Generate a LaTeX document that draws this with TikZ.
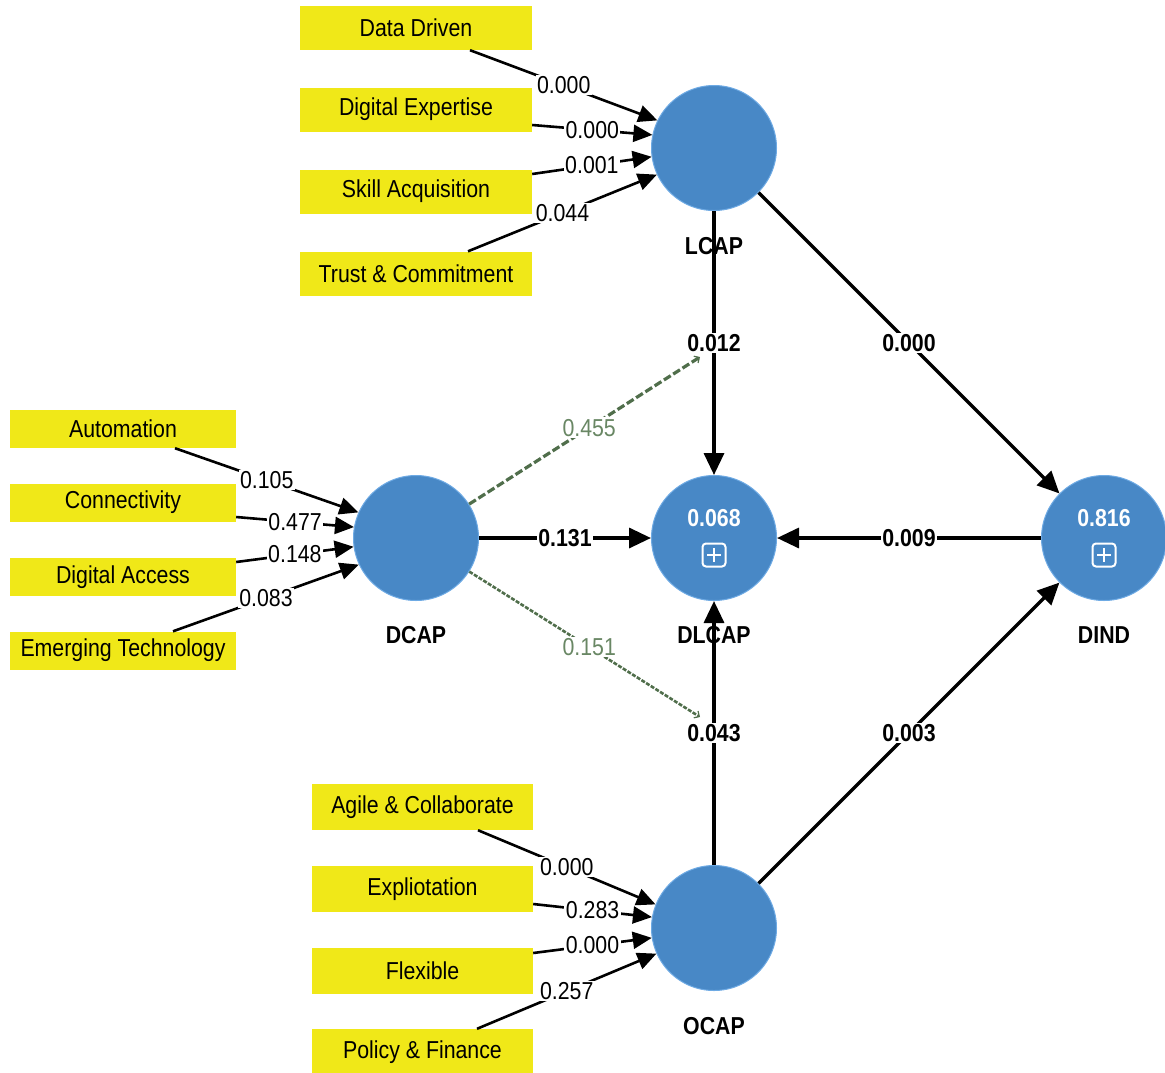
\documentclass[tikz,border=0pt]{standalone}
\usepackage{fontspec}
\setmainfont{Liberation Sans}[FakeStretch=0.87]
\usetikzlibrary{arrows.meta}
\definecolor{cblue}{RGB}{72,136,198}
\definecolor{cborder}{RGB}{110,170,228}
\definecolor{cyel}{RGB}{240,232,24}
\definecolor{cgreen}{RGB}{80,110,75}
\definecolor{cgtext}{RGB}{105,135,100}
\begin{document}
\begin{tikzpicture}[x=1pt,y=-1pt,
  lv/.style={circle,fill=cblue,draw=cborder,line width=1pt,minimum size=125pt,inner sep=0pt},
  ind/.style={fill=cyel,minimum width=232pt,inner sep=0pt,font=\fontsize{24.5}{27}\selectfont},
  nm/.style={font=\bfseries\fontsize{24.5}{27}\selectfont},
  lab/.style={fill=white,inner sep=1.5pt,font=\fontsize{24.5}{27}\selectfont},
  blab/.style={fill=white,inner sep=1.5pt,font=\bfseries\fontsize{24.5}{27}\selectfont},
  glab/.style={fill=white,inner sep=1.5pt,text=cgtext,font=\fontsize{24.5}{27}\selectfont},
  wlab/.style={text=white,font=\bfseries\fontsize{24.5}{27}\selectfont},
  inarr/.style={line width=2.6pt,-{Triangle[length=19pt,width=17pt]}},
  sarr/.style={line width=3.4pt,-{Triangle[length=22pt,width=20pt]}},
  mod/.style={cgreen,line width=3.2pt,dash pattern=on 8pt off 3pt,-{Straight Barb[length=4pt,width=8pt,line width=1.2pt]}},
  plusbox/.style={draw=white,line width=2pt,rounded corners=3.5pt,minimum size=23pt,inner sep=0pt}
]
\useasboundingbox (0,0) rectangle (1165,1072);

% latent variables
\node[lv] (LCAP) at (714,148) {};
\node[lv] (DCAP) at (416,538) {};
\node[lv] (DLCAP) at (714,538) {};
\node[lv] (DIND) at (1104,538) {};
\node[lv] (OCAP) at (714,928) {};

\node[wlab] (r2a) at (714,518) {0.068};
\node[plusbox] (pa) at (714,555) {};
\draw[white,line width=2pt] ([xshift=-7pt]pa.center) -- ([xshift=7pt]pa.center);
\draw[white,line width=2pt] ([yshift=-7pt]pa.center) -- ([yshift=7pt]pa.center);
\node[wlab] (r2b) at (1104,518) {0.816};
\node[plusbox] (pb) at (1104,555) {};
\draw[white,line width=2pt] ([xshift=-7pt]pb.center) -- ([xshift=7pt]pb.center);
\draw[white,line width=2pt] ([yshift=-7pt]pb.center) -- ([yshift=7pt]pb.center);

% names
\node[nm] (nLCAP) at (714,246) {LCAP};
\node[nm] (nDCAP) at (416,635) {DCAP};
\node[nm] (nDLCAP) at (714,635) {DLCAP};
\node[nm] (nDIND) at (1104,635) {DIND};
\node[nm] (nOCAP) at (714,1026) {OCAP};

% indicators LCAP
\node[ind,minimum height=44pt] (dd) at (416,28) {Data Driven};
\node[ind,minimum height=44pt] (de) at (416,109.5) {Digital Expertise};
\node[ind,minimum height=44pt] (sa) at (416,191.5) {Skill Acquisition};
\node[ind,minimum height=44pt] (tc) at (416,273.5) {Trust \& Commitment};

% indicators DCAP
\node[ind,minimum width=226pt,minimum height=38pt] (au) at (123,429) {Automation};
\node[ind,minimum width=226pt,minimum height=38pt] (co) at (123,502.5) {Connectivity};
\node[ind,minimum width=226pt,minimum height=38pt] (da) at (123,577) {Digital Access};
\node[ind,minimum width=226pt,minimum height=38pt] (et) at (123,650.5) {Emerging Technology};

% indicators OCAP
\node[ind,minimum width=221pt,minimum height=46pt] (ag) at (422.5,807) {Agile \& Collaborate};
\node[ind,minimum width=221pt,minimum height=46pt] (ex) at (422.5,889) {Expliotation};
\node[ind,minimum width=221pt,minimum height=46pt] (fl) at (422.5,970.5) {Flexible};
\node[ind,minimum width=221pt,minimum height=46pt] (pf) at (422.5,1052) {Policy \& Finance};

% outer model arrows LCAP
\draw[inarr] ([xshift=54pt]dd.south) -- node[lab] {0.000} (LCAP.154);
\draw[inarr] ([yshift=-15.5pt]de.east) -- node[lab] {0.000} (LCAP.168);
\draw[inarr] ([yshift=17.5pt]sa.east) -- node[lab] {0.001} (LCAP.188);
\draw[inarr] ([xshift=52pt]tc.north) -- node[lab] {0.044} (LCAP.205);

% outer model arrows DCAP
\draw[inarr] ([xshift=52pt]au.south) -- node[lab] {0.105} (DCAP.156);
\draw[inarr] ([yshift=-14.5pt]co.east) -- node[lab] {0.477} (DCAP.170);
\draw[inarr] ([yshift=15pt]da.east) -- node[lab] {0.148} (DCAP.188);
\draw[inarr] ([xshift=50pt]et.north) -- node[lab] {0.083} (DCAP.205);

% outer model arrows OCAP
\draw[inarr] ([xshift=55.5pt]ag.south) -- node[lab] {0.000} (OCAP.158);
\draw[inarr] ([yshift=-15pt]ex.east) -- node[lab] {0.283} (OCAP.170);
\draw[inarr] ([yshift=17.5pt]fl.east) -- node[lab] {0.000} (OCAP.189);
\draw[inarr] ([xshift=54.5pt]pf.north) -- node[lab] {0.257} (OCAP.204);

% structural paths
\draw[sarr] (LCAP) -- node[blab] (p1) {0.012} (DLCAP);
\draw[sarr] (LCAP) -- node[blab] {0.000} (DIND);
\draw[sarr] (DCAP) -- node[blab] {0.131} (DLCAP);
\draw[sarr] (DIND) -- node[blab] {0.009} (DLCAP);
\draw[sarr] (OCAP) -- node[blab] (p2) {0.043} (DLCAP);
\draw[sarr] (OCAP) -- node[blab] {0.003} (DIND);

% moderating effects
\coordinate (m1) at (700,357);
\coordinate (m2) at (700,717);
\draw[mod] (DCAP) -- node[glab,pos=0.52] {0.455} (m1);
\draw[mod,dash pattern=on 4pt off 1.5pt,line width=2.6pt] (DCAP) -- node[glab,pos=0.52] {0.151} (m2);
\end{tikzpicture}
\end{document}
